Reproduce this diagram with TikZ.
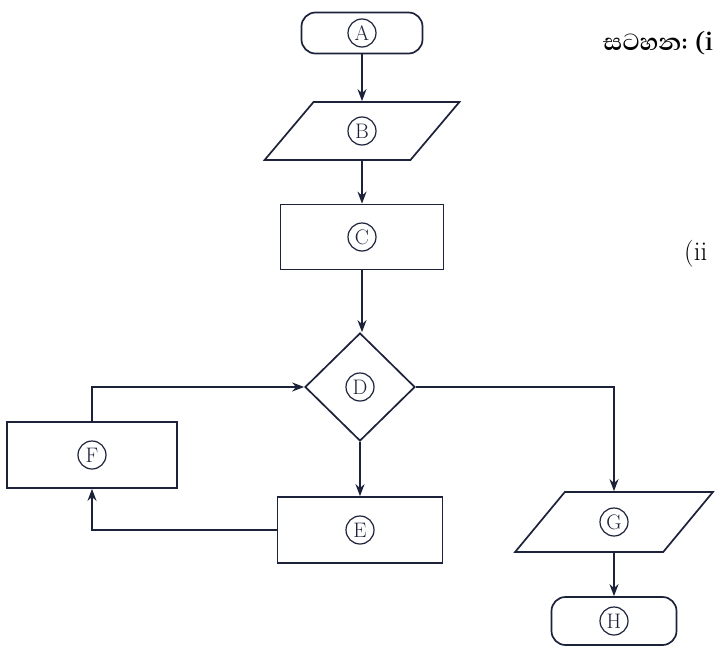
\documentclass[tikz,border=0pt]{standalone}
\usepackage{fontspec}
\newfontfamily\sinfont[Script=Sinhala]{Abhaya Libre}
\usetikzlibrary{shapes.geometric,arrows.meta}
\definecolor{ink}{RGB}{28,34,58}
\begin{document}
\begin{tikzpicture}[x=1pt,y=-1pt,
 shp/.style={draw=ink, line width=1.7pt, inner sep=3pt},
 box/.style={shp, rectangle, minimum width=163pt, minimum height=65pt},
 term/.style={shp, rectangle, rounded corners=14pt, minimum width=121pt, minimum height=41pt},
 io/.style={shp, trapezium, trapezium left angle=62, trapezium right angle=118, trapezium stretches=true, minimum width=195pt, minimum height=58pt},
 dec/.style={shp, diamond, minimum width=110pt, minimum height=108pt},
 letter/.style={circle, draw=ink, line width=1.2pt, inner sep=0pt, minimum size=28pt, font=\fontsize{21}{21}\selectfont, text=ink},
 arr/.style={draw=ink, line width=1.7pt, -{Stealth[length=12pt,width=9pt]}}
]
\path[use as bounding box] (0,0) rectangle (715,653);
\clip (0,0) rectangle (715,653);
\fill[white] (0,0) rectangle (715,653);

\node[term] (A) at (362,33) {};
\node[io] (B) at (362,131) {\phantom{X}};
\node[box] (C) at (362,237) {};
\node[dec] (D) at (360,387) {};
\node[box, minimum width=165pt, minimum height=66pt] (E) at (360,530) {};
\node[box, minimum width=170pt, minimum height=66pt] (F) at (92,455) {};
\node[io, minimum width=198pt, minimum height=60pt] (G) at (614,522) {\phantom{X}};
\node[term, minimum width=125pt, minimum height=48pt] (H) at (614,621) {};

\node[letter] (lA) at (A) {A};
\node[letter] (lB) at (B) {B};
\node[letter] (lC) at (C) {C};
\node[letter] (lD) at (D) {D};
\node[letter] (lE) at (E) {E};
\node[letter] (lF) at (F) {F};
\node[letter] (lG) at (G) {G};
\node[letter] (lH) at (H) {H};

\draw[arr] (A) -- (B);
\draw[arr] (B) -- (C);
\draw[arr] (C.south) -- (C.south |- D.north);
\draw[arr] (D) -- (E);
\draw[arr] (E.west) -| (F.south);
\draw[arr] (F.north) |- (D.west);
\draw[arr] (D.east) -| (G.north);
\draw[arr] (G) -- (H);

\node[anchor=base west, inner sep=0pt, font=\sinfont\bfseries\fontsize{30}{30}\selectfont] (note) at (603,50) {සටහන: (i};
\node[anchor=base west, inner sep=0pt, font=\fontsize{27}{27}\selectfont] (ii) at (684,260) {(ii};
\end{tikzpicture}
\end{document}
